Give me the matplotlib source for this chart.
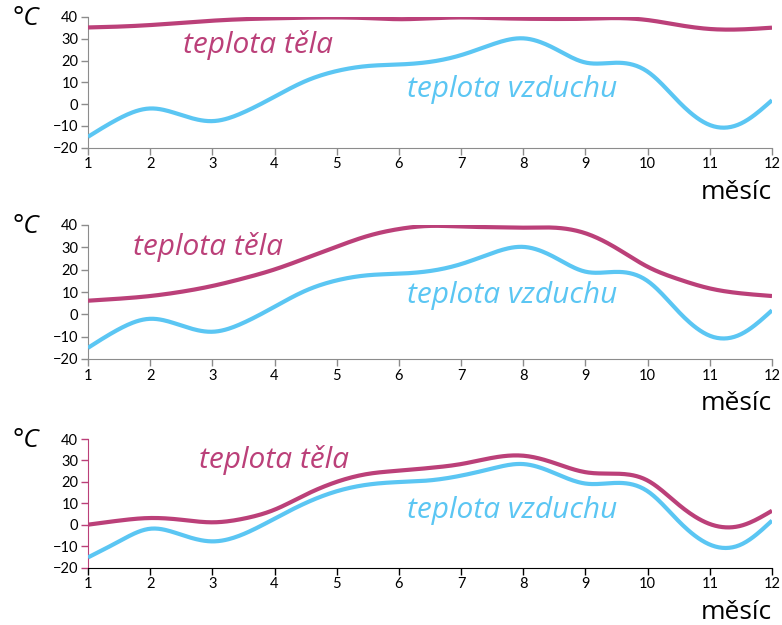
import numpy as np
import matplotlib
matplotlib.use("Agg")
import matplotlib.pyplot as plt

months = np.arange(1, 12.01, 0.5)
tick_months = list(range(1, 13))
y_ticks = [-20, -10, 0, 10, 20, 30, 40]

air_a = [-15, -6.6, -2, -5, -7.8, -3.8, 3.4, 10.6, 15.2, 17.5, 18.2, 19.4,
         22.5, 27.4, 30.2, 25.6, 19.1, 19.0, 14.9, 1.1, -9.6, -8.9, 1.8]
air_b = [-15.3, -7.8, -1.9, -4.7, -7.8, -4.4, 2.8, 10.1, 15.6, 18.7, 19.9, 20.7,
         22.9, 26.2, 28.3, 24.1, 19.2, 19.5, 15.6, 1.6, -9.3, -9.3, 1.9]

body_1 = [35.2, 35.6, 36.3, 37.3, 38.3, 39.0, 39.4, 39.7, 39.8, 39.5, 39.0, 39.4,
          39.8, 39.5, 39.2, 39.1, 39.2, 39.5, 38.6, 36.3, 34.5, 34.3, 35.1]
body_2 = [6.1, 7.0, 8.2, 10.1, 12.7, 16.1, 20.1, 25.1, 30.3, 35.1, 38.2, 39.6,
          39.3, 39.0, 38.8, 38.8, 36.3, 29.6, 21.3, 15.7, 11.6, 9.4, 8.2]
body_3 = [0.0, 1.9, 3.1, 2.3, 1.1, 2.8, 7.0, 14.0, 20.0, 23.7, 25.2, 26.5,
          28.3, 31.2, 32.2, 28.8, 24.5, 23.8, 20.6, 9.3, 0.3, -0.5, 6.5]

PINK = '#bb4079'
BLUE = '#5bc6f3'
HAND = 'Open Sans'


def smooth(x, y, n=400):
    # natural cubic spline, only for drawing the line smooth
    x = np.asarray(x, float)
    y = np.asarray(y, float)
    k = len(x)
    h = np.diff(x)
    A = np.zeros((k, k))
    r = np.zeros(k)
    A[0, 0] = A[-1, -1] = 1
    for i in range(1, k - 1):
        A[i, i - 1] = h[i - 1]
        A[i, i] = 2 * (h[i - 1] + h[i])
        A[i, i + 1] = h[i]
        r[i] = 6 * ((y[i + 1] - y[i]) / h[i] - (y[i] - y[i - 1]) / h[i - 1])
    m = np.linalg.solve(A, r)
    xs = np.linspace(x[0], x[-1], n)
    idx = np.clip(np.searchsorted(x, xs) - 1, 0, k - 2)
    t = xs - x[idx]
    hi = h[idx]
    a = (m[idx + 1] - m[idx]) / (6 * hi)
    b = m[idx] / 2
    c = (y[idx + 1] - y[idx]) / hi - hi * (2 * m[idx] + m[idx + 1]) / 6
    return xs, y[idx] + c * t + b * t ** 2 + a * t ** 3


fig = plt.figure(figsize=(7.82, 6.25), dpi=100)

panels = [
    # top, bottom (fig fraction), body, air, label positions
    (0.9728, 0.7637, body_1, air_a, (2.53, 27.0), (6.13, 6.6), 'gray'),
    (0.6400, 0.4256, body_2, air_a, (1.72, 30.2), (6.13, 8.3), 'gray'),
    (0.2976, 0.0920, body_3, air_b, (2.78, 30.2), (6.13, 6.5), 'pink'),
]

left, right = 88 / 782, 772 / 782
for top, bottom, body, air, tl, vl, style in panels:
    ax = fig.add_axes([left, bottom, right - left, top - bottom])
    xs, ys = smooth(months, air)
    ax.plot(xs, ys, color=BLUE, lw=3, solid_capstyle='butt', zorder=3)
    xs, ys = smooth(months, body)
    ax.plot(xs, ys, color=PINK, lw=3, solid_capstyle='butt', zorder=3)

    ax.set_xlim(1, 12)
    ax.set_ylim(-20, 40)
    ax.set_xticks(tick_months)
    ax.set_yticks(y_ticks)
    ax.spines['top'].set_visible(False)
    ax.spines['right'].set_visible(False)
    ax.tick_params(labelsize=10.5, length=5, width=1, pad=2)
    for lab in ax.get_xticklabels() + ax.get_yticklabels():
        lab.set_family('Lato')
        lab.set_color('black')
    if style == 'gray':
        for s in ['left', 'bottom']:
            ax.spines[s].set_color('#8c8c8c')
        ax.tick_params(color='#8c8c8c')
    else:
        ax.spines['left'].set_color(PINK)
        ax.spines['bottom'].set_color('black')
        ax.tick_params(axis='y', color=PINK)
        ax.tick_params(axis='x', color='black')
    ax.patch.set_alpha(0)

    ax.text(tl[0], tl[1], 'teplota těla', color=PINK, fontsize=21.5,
            family=HAND, style='italic', ha='left', va='center')
    ax.text(vl[0], vl[1], 'teplota vzduchu', color=BLUE, fontsize=21.5,
            family=HAND, style='italic', ha='left', va='center')

    # degree label and axis name
    fig.text(12 / 782, top - 0.003, '°C', fontsize=19, family=HAND,
             style='italic', ha='left', va='center')
    fig.text(right, bottom - 0.072, 'měsíc', fontsize=19, family=HAND,
             ha='right', va='center')

fig.savefig('out.png', dpi=100)
